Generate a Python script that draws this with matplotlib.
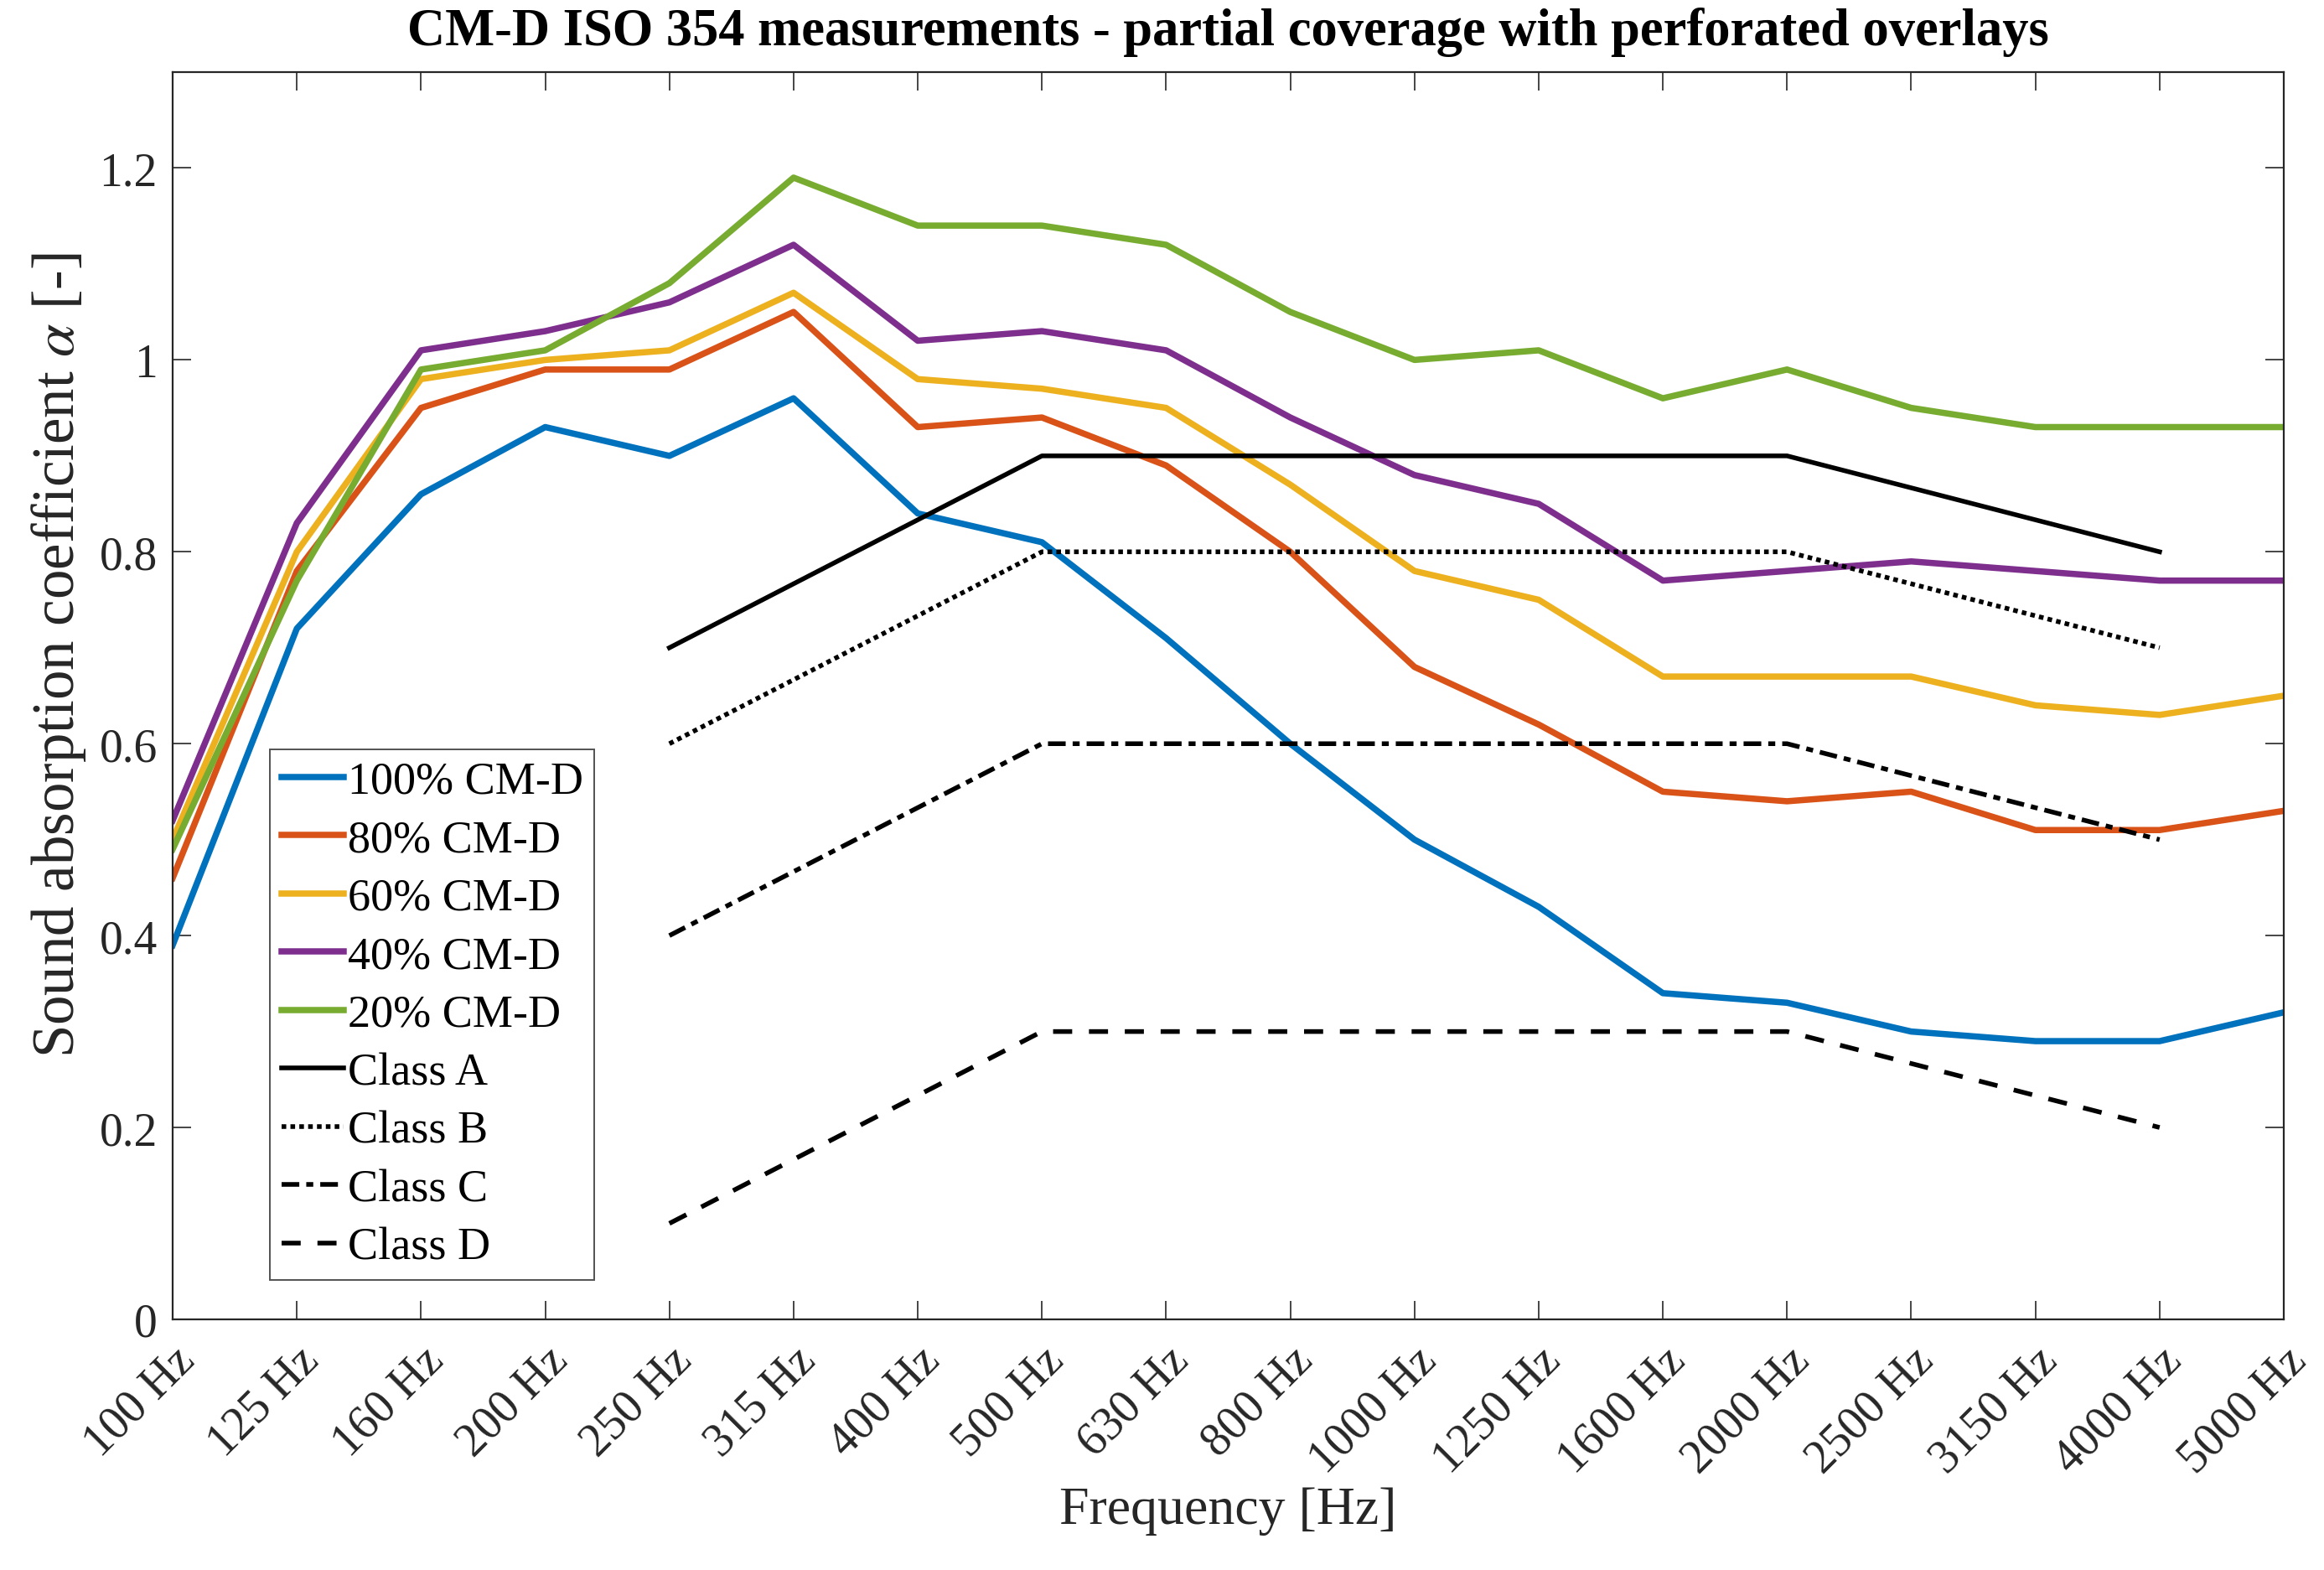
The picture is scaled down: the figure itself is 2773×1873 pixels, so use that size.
import matplotlib
matplotlib.use("Agg")
import matplotlib.pyplot as plt
import matplotlib.transforms as mtransforms
import numpy as np

freqs = ["100 Hz", "125 Hz", "160 Hz", "200 Hz", "250 Hz", "315 Hz", "400 Hz", "500 Hz",
         "630 Hz", "800 Hz", "1000 Hz", "1250 Hz", "1600 Hz", "2000 Hz", "2500 Hz",
         "3150 Hz", "4000 Hz", "5000 Hz"]

cm100 = [0.39, 0.72, 0.86, 0.93, 0.90, 0.96, 0.84, 0.81, 0.71, 0.60, 0.50, 0.43, 0.34, 0.33, 0.30, 0.29, 0.29, 0.32]
cm80 = [0.46, 0.78, 0.95, 0.99, 0.99, 1.05, 0.93, 0.94, 0.89, 0.80, 0.68, 0.62, 0.55, 0.54, 0.55, 0.51, 0.51, 0.53]
cm60 = [0.50, 0.80, 0.98, 1.00, 1.01, 1.07, 0.98, 0.97, 0.95, 0.87, 0.78, 0.75, 0.67, 0.67, 0.67, 0.64, 0.63, 0.65]
cm40 = [0.52, 0.83, 1.01, 1.03, 1.06, 1.12, 1.02, 1.03, 1.01, 0.94, 0.88, 0.85, 0.77, 0.78, 0.79, 0.78, 0.77, 0.77]
cm20 = [0.49, 0.77, 0.99, 1.01, 1.08, 1.19, 1.14, 1.14, 1.12, 1.05, 1.00, 1.01, 0.96, 0.99, 0.95, 0.93, 0.93, 0.93]

class_freqs = ["250 Hz", "500 Hz", "1000 Hz", "2000 Hz", "4000 Hz"]
classA = [0.7, 0.9, 0.9, 0.9, 0.8]
classB = [0.6, 0.8, 0.8, 0.8, 0.7]
classC = [0.4, 0.6, 0.6, 0.6, 0.5]
classD = [0.1, 0.3, 0.3, 0.3, 0.2]

plt.rcParams['font.family'] = ['Liberation Serif', 'DejaVu Serif']
plt.rcParams['mathtext.fontset'] = 'stix'

W, H = 2773, 1874
fig = plt.figure(figsize=(W / 100, H / 100), dpi=100)
L, R, B, T = 206, 2725, 1575, 87
ax = fig.add_axes([L / W, 1 - B / H, (R - L) / W, (B - T) / H])

x = np.arange(len(freqs))
cx = [freqs.index(f) for f in class_freqs]
lw = 5.4
ax.plot(x, cm100, color='#0072BD', lw=lw, label='100% CM-D')
ax.plot(x, cm80, color='#D95319', lw=lw, label='80% CM-D')
ax.plot(x, cm60, color='#EDB120', lw=lw, label='60% CM-D')
ax.plot(x, cm40, color='#7E2F8E', lw=lw, label='40% CM-D')
ax.plot(x, cm20, color='#77AC30', lw=lw, label='20% CM-D')
clw = 4.0
ax.plot(cx, classA, color='black', lw=clw, ls='-', label='Class A')
ax.plot(cx, classB, color='black', lw=clw, ls=(0, (1, 0.9)), label='Class B')
ax.plot(cx, classC, color='black', lw=clw, ls=(0, (3.8, 1.5, 1.5, 1.5)), label='Class C')
ax.plot(cx, classD, color='black', lw=clw, ls=(0, (4.1, 3.6)), label='Class D')

ax.set_xlim(0, len(freqs) - 1)
ax.set_ylim(0, 1.3)
ax.set_xticks(x)
ax.set_xticklabels(freqs, rotation=45, ha='right', rotation_mode='anchor', fontsize=40)
offset = mtransforms.ScaledTranslation(14 / 100, 6 / 100, fig.dpi_scale_trans)
for lab in ax.get_xticklabels():
    lab.set_transform(lab.get_transform() + offset)
ax.set_yticks([0, 0.2, 0.4, 0.6, 0.8, 1.0, 1.2])
ax.set_yticklabels(['0', '0.2', '0.4', '0.6', '0.8', '1', '1.2'], fontsize=40)
ax.tick_params(direction='in', length=16, width=1.2, top=True, right=True, color='#262626', labelcolor='#262626')
ax.tick_params(axis='x', pad=16)
ax.tick_params(axis='y', pad=13)
for s in ax.spines.values():
    s.set_linewidth(1.6)
    s.set_color('#262626')

ax.set_xlabel('Frequency [Hz]', fontsize=46, color='#262626', labelpad=4)
ax.set_ylabel(r'Sound absorption coefficient $\alpha$ [-]', fontsize=51, color='#262626', labelpad=10)
ax.yaxis.label.set_y(0.533)
ax.set_title('CM-D ISO 354 measurements - partial coverage with perforated overlays',
             fontsize=45, fontweight='bold', pad=24)

leg = ax.legend(loc='lower left', fontsize=39, frameon=True, fancybox=False, edgecolor='#262626',
                handlelength=1.38, handletextpad=0.08, labelspacing=0.35, borderpad=0.25,
                borderaxespad=0.0)
leg.get_frame().set_linewidth(1.4)
leg.set_bbox_to_anchor((322 / W, 1 - 1528 / H), transform=fig.transFigure)

fig.savefig('out.png', dpi=100)
